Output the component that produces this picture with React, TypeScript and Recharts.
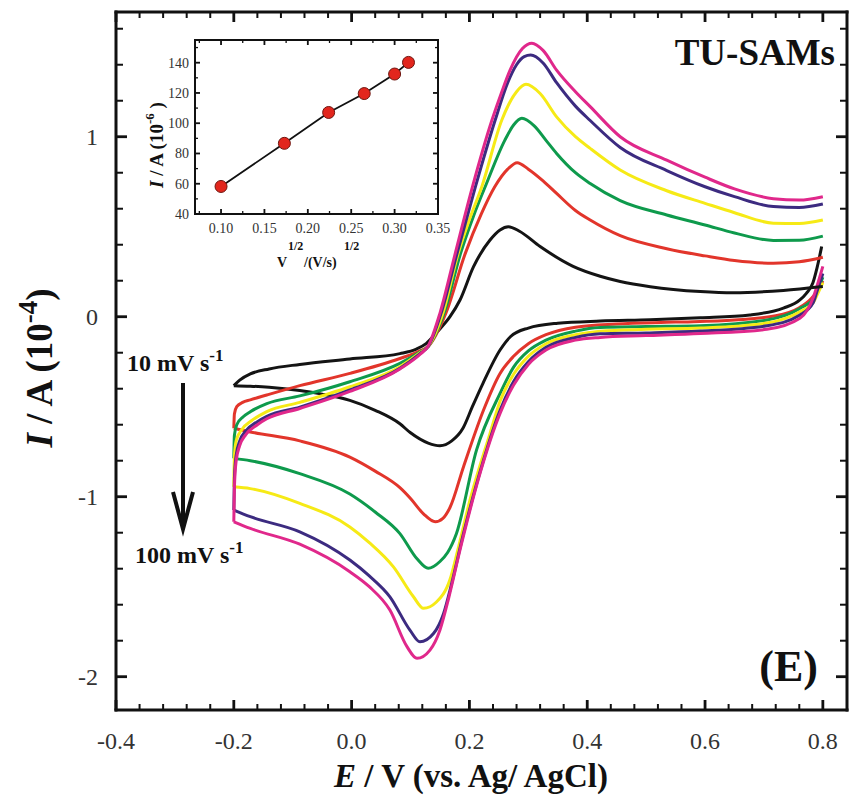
import React from "react";
import { LineChart, Line, XAxis, YAxis } from "recharts";

type Pt = [number, number];

// CV sweeps: [E (V vs Ag/AgCl), I (1e-4 A)]
// fwd = anodic sweep -0.2 -> 0.8, rev = cathodic sweep 0.8 -> -0.2
const blackFwd: Pt[] = [
  [-0.2, -0.383], [-0.19, -0.352], [-0.172, -0.318], [-0.14, -0.29], [-0.088, -0.265], [-0.003, -0.235],
  [0.082, -0.205], [0.11, -0.18], [0.127, -0.148], [0.145, -0.085], [0.167, 0.0], [0.184, 0.093],
  [0.207, 0.278], [0.235, 0.426], [0.252, 0.482], [0.266, 0.5], [0.285, 0.475], [0.32, 0.39],
  [0.376, 0.28], [0.422, 0.225], [0.456, 0.196], [0.507, 0.167], [0.592, 0.14], [0.648, 0.133],
  [0.733, 0.146], [0.8, 0.168],
];
const blackRev: Pt[] = [
  [0.798, 0.39], [0.79, 0.27], [0.783, 0.187], [0.772, 0.13], [0.761, 0.093], [0.733, 0.048],
  [0.676, 0.01], [0.592, -0.006], [0.507, -0.017], [0.422, -0.024], [0.35, -0.036], [0.3, -0.063],
  [0.27, -0.11], [0.252, -0.185], [0.223, -0.37], [0.205, -0.5], [0.189, -0.62], [0.17, -0.69],
  [0.15, -0.717], [0.13, -0.702], [0.1, -0.645], [0.082, -0.595], [0.04, -0.52], [-0.003, -0.465],
  [-0.05, -0.43], [-0.088, -0.41], [-0.14, -0.392], [-0.172, -0.386], [-0.2, -0.383],
];

const redFwd: Pt[] = [
  [-0.2, -0.62], [-0.199, -0.54], [-0.195, -0.5], [-0.185, -0.476], [-0.172, -0.462], [-0.144, -0.435],
  [-0.088, -0.383], [-0.003, -0.315], [0.082, -0.232], [0.116, -0.19], [0.13, -0.165], [0.16, 0.02],
  [0.193, 0.352], [0.22, 0.57], [0.243, 0.722], [0.265, 0.82], [0.281, 0.856], [0.3, 0.82],
  [0.325, 0.755], [0.348, 0.685], [0.38, 0.59], [0.405, 0.537], [0.456, 0.45], [0.535, 0.378],
  [0.6, 0.338], [0.65, 0.312], [0.716, 0.297], [0.76, 0.305], [0.8, 0.33],
];
const redRev: Pt[] = [
  [0.8, 0.2], [0.79, 0.14], [0.78, 0.1], [0.76, 0.05], [0.72, 0.005], [0.65, -0.018], [0.55, -0.03],
  [0.45, -0.04], [0.38, -0.058], [0.33, -0.1], [0.3, -0.15], [0.275, -0.22], [0.252, -0.315],
  [0.224, -0.518], [0.19, -0.833], [0.167, -1.06], [0.155, -1.12], [0.142, -1.139], [0.122, -1.095],
  [0.1, -1.01], [0.082, -0.95], [0.04, -0.858], [-0.003, -0.78], [-0.088, -0.69], [-0.172, -0.64],
  [-0.2, -0.62],
];

const greenFwd: Pt[] = [
  [-0.2, -0.787], [-0.199, -0.66], [-0.195, -0.6], [-0.184, -0.556], [-0.172, -0.528], [-0.144, -0.483],
  [-0.088, -0.44], [-0.003, -0.361], [0.082, -0.259], [0.116, -0.196], [0.13, -0.165], [0.157, 0.02],
  [0.185, 0.352], [0.207, 0.56], [0.229, 0.74], [0.26, 0.98], [0.275, 1.065], [0.289, 1.102],
  [0.31, 1.06], [0.33, 0.98], [0.348, 0.907], [0.38, 0.8], [0.405, 0.74], [0.456, 0.645],
  [0.535, 0.565], [0.6, 0.51], [0.65, 0.465], [0.716, 0.424], [0.76, 0.425], [0.8, 0.448],
];
const greenRev: Pt[] = [
  [0.8, 0.22], [0.79, 0.14], [0.784, 0.1], [0.761, 0.046], [0.705, -0.018], [0.592, -0.05], [0.5, -0.055],
  [0.422, -0.06], [0.38, -0.08], [0.33, -0.13], [0.3, -0.19], [0.275, -0.28], [0.252, -0.426],
  [0.212, -0.741], [0.178, -1.204], [0.163, -1.31], [0.15, -1.36], [0.13, -1.398], [0.111, -1.345],
  [0.082, -1.205], [0.04, -1.085], [-0.003, -0.985], [-0.088, -0.872], [-0.172, -0.8], [-0.2, -0.787],
];

const yellowFwd: Pt[] = [
  [-0.2, -0.945], [-0.199, -0.78], [-0.196, -0.69], [-0.186, -0.625], [-0.17, -0.578], [-0.144, -0.527],
  [-0.088, -0.476], [-0.003, -0.389], [0.082, -0.278], [0.116, -0.2], [0.13, -0.165], [0.155, 0.02],
  [0.181, 0.352], [0.2, 0.54], [0.221, 0.722], [0.255, 1.093], [0.28, 1.25], [0.296, 1.291],
  [0.32, 1.24], [0.348, 1.11], [0.38, 1.0], [0.405, 0.935], [0.456, 0.815], [0.535, 0.7],
  [0.6, 0.63], [0.65, 0.578], [0.716, 0.52], [0.76, 0.518], [0.8, 0.537],
];
const yellowRev: Pt[] = [
  [0.8, 0.19], [0.79, 0.12], [0.784, 0.08], [0.761, 0.028], [0.705, -0.035], [0.592, -0.063], [0.5, -0.07],
  [0.422, -0.08], [0.38, -0.1], [0.33, -0.15], [0.3, -0.22], [0.275, -0.32], [0.252, -0.47],
  [0.235, -0.648], [0.201, -1.018], [0.18, -1.3], [0.167, -1.46], [0.144, -1.585], [0.122, -1.62],
  [0.105, -1.556], [0.071, -1.39], [0.03, -1.255], [-0.003, -1.168], [-0.088, -1.037], [-0.172, -0.955],
  [-0.2, -0.945],
];

const indigoFwd: Pt[] = [
  [-0.2, -1.074], [-0.199, -0.9], [-0.196, -0.77], [-0.19, -0.69], [-0.18, -0.636], [-0.16, -0.583],
  [-0.144, -0.553], [-0.088, -0.502], [-0.003, -0.407], [0.082, -0.287], [0.116, -0.205], [0.13, -0.165],
  [0.152, 0.02], [0.178, 0.34], [0.21, 0.72], [0.2435, 1.09], [0.265, 1.3], [0.28, 1.4], [0.293, 1.445],
  [0.304, 1.454], [0.325, 1.41], [0.348, 1.3], [0.38, 1.17], [0.405, 1.09], [0.456, 0.94],
  [0.535, 0.812], [0.6, 0.722], [0.65, 0.667], [0.716, 0.612], [0.76, 0.607], [0.8, 0.626],
];
const indigoRev: Pt[] = [
  [0.8, 0.24], [0.79, 0.14], [0.784, 0.08], [0.761, 0.009], [0.705, -0.05], [0.592, -0.08], [0.5, -0.09],
  [0.422, -0.095], [0.38, -0.115], [0.33, -0.17], [0.3, -0.25], [0.275, -0.36], [0.252, -0.52],
  [0.224, -0.796], [0.19, -1.204], [0.17, -1.48], [0.156, -1.65], [0.139, -1.76], [0.116, -1.806],
  [0.099, -1.741], [0.065, -1.556], [0.03, -1.44], [-0.003, -1.352], [-0.088, -1.195], [-0.172, -1.111],
  [-0.2, -1.074],
];

const magentaFwd: Pt[] = [
  [-0.2, -1.139], [-0.199, -0.95], [-0.196, -0.8], [-0.19, -0.716], [-0.18, -0.656], [-0.16, -0.6],
  [-0.144, -0.567], [-0.088, -0.51], [-0.003, -0.415], [0.082, -0.29], [0.116, -0.21], [0.13, -0.163],
  [0.15, 0.02], [0.175, 0.34], [0.205, 0.72], [0.238, 1.09], [0.255, 1.25], [0.269, 1.37], [0.29, 1.49],
  [0.306, 1.52], [0.325, 1.48], [0.348, 1.37], [0.38, 1.25], [0.405, 1.167], [0.456, 1.0],
  [0.535, 0.87], [0.6, 0.775], [0.65, 0.71], [0.716, 0.656], [0.76, 0.648], [0.8, 0.667],
];
const magentaRev: Pt[] = [
  [0.8, 0.28], [0.79, 0.17], [0.784, 0.11], [0.761, -0.009], [0.705, -0.07], [0.592, -0.093], [0.5, -0.105],
  [0.422, -0.115], [0.38, -0.13], [0.33, -0.185], [0.3, -0.265], [0.275, -0.38], [0.252, -0.537],
  [0.218, -0.87], [0.184, -1.296], [0.165, -1.56], [0.15, -1.74], [0.133, -1.852], [0.111, -1.898],
  [0.094, -1.833], [0.065, -1.63], [0.03, -1.5], [-0.003, -1.417], [-0.088, -1.264], [-0.172, -1.176],
  [-0.2, -1.139],
];

const scanRates = ["10", "30", "50", "70", "90", "100"];
const curveColors = ["#141414", "#e2352b", "#0e9a4c", "#f6ea16", "#3c2b80", "#e0288b"];

// main axes
const xMajor = [-0.4, -0.2, 0, 0.2, 0.4, 0.6, 0.8];
const xMajorLabels = ["-0.4", "-0.2", "0.0", "0.2", "0.4", "0.6", "0.8"];
const xMinor = [
  -0.36, -0.32, -0.28, -0.24, -0.16, -0.12, -0.08, -0.04, 0.04, 0.08, 0.12, 0.16,
  0.24, 0.28, 0.32, 0.36, 0.44, 0.48, 0.52, 0.56, 0.64, 0.68, 0.72, 0.76,
];
const yMajor = [-2, -1, 0, 1];
const yMajorLabels = ["-2", "-1", "0", "1"];
const yMinor = [-1.8, -1.6, -1.4, -1.2, -0.8, -0.6, -0.4, -0.2, 0.2, 0.4, 0.6, 0.8, 1.2, 1.4, 1.6];

// inset: peak current vs sqrt(scan rate)
const sqrtScanRate = [0.1, 0.173, 0.224, 0.265, 0.3, 0.316];
const peakCurrent = [58.2, 86.7, 107.1, 119.6, 132.5, 140.2];
const inXMajor = [0.1, 0.15, 0.2, 0.25, 0.3, 0.35];
const inXMajorLabels = ["0.10", "0.15", "0.20", "0.25", "0.30", "0.35"];
const inXMinor = [0.075, 0.125, 0.175, 0.225, 0.275, 0.325];
const inYMajor = [40, 60, 80, 100, 120, 140];
const inYMajorLabels = ["40", "60", "80", "100", "120", "140"];
const inYMinor = [50, 70, 90, 110, 130, 150];

const SERIF = "'Liberation Serif', 'DejaVu Serif', serif";

const sortNum = (a: number[]) => [...a].sort((p, q) => p - q);
const toRows = (pts: Pt[]) => pts.map(([E, I]) => ({ E, I }));

const series = [
  { fwd: blackFwd, rev: blackRev },
  { fwd: redFwd, rev: redRev },
  { fwd: greenFwd, rev: greenRev },
  { fwd: yellowFwd, rev: yellowRev },
  { fwd: indigoFwd, rev: indigoRev },
  { fwd: magentaFwd, rev: magentaRev },
].map((s, i) => ({ ...s, name: `${scanRates[i]} mV/s`, color: curveColors[i] }));

type Side = "bottom" | "top" | "left" | "right";
interface TickOpt {
  major: number;
  minor: number;
  sw: number;
  gap: number;
  size: number;
  color: string;
}

// ticks point into the plot; labels only on bottom / left majors
function makeTick(side: Side, majors: number[], labels: string[], o: TickOpt) {
  return (props: any) => {
    const { x, y, payload } = props;
    const i = majors.findIndex((m) => Math.abs(m - payload.value) < 1e-9);
    const len = i >= 0 ? o.major : o.minor;
    let x2 = x;
    let y2 = y;
    if (side === "bottom") y2 = y - len;
    else if (side === "top") y2 = y + len;
    else if (side === "left") x2 = x + len;
    else x2 = x - len;
    return (
      <g>
        <line x1={x} y1={y} x2={x2} y2={y2} stroke="#111" strokeWidth={i >= 0 ? o.sw * 1.4 : o.sw} />
        {i >= 0 && side === "bottom" ? (
          <text x={x} y={y + o.gap} textAnchor="middle" fontFamily={SERIF} fontSize={o.size} fill={o.color}>
            {labels[i]}
          </text>
        ) : null}
        {i >= 0 && side === "left" ? (
          <text x={x - o.gap} y={y} dy="0.35em" textAnchor="end" fontFamily={SERIF} fontSize={o.size} fill={o.color}>
            {labels[i]}
          </text>
        ) : null}
      </g>
    );
  };
}

const X_MIN = -0.4;
const X_MAX = 0.841;
const Y_MIN = -2.185;
const Y_MAX = 1.693;

const mainOpt: TickOpt = { major: 10, minor: 6, sw: 2, gap: 39, size: 24, color: "#333" };
const mainYOpt: TickOpt = { major: 11, minor: 7, sw: 2, gap: 18, size: 24, color: "#333" };
const inOpt: TickOpt = { major: 5, minor: 3, sw: 1.3, gap: 19, size: 14, color: "#333" };
const inYOpt: TickOpt = { major: 5, minor: 3, sw: 1.3, gap: 6, size: 14, color: "#333" };

const frame = { stroke: "#111", strokeWidth: 3, strokeLinecap: "square" as const };
const inFrame = { stroke: "#111", strokeWidth: 2, strokeLinecap: "square" as const };

// axes are 1px thick (0 would not be drawn), margins are the plot edges minus that
const axisCommon = {
  type: "number" as const,
  allowDataOverflow: true,
  interval: 0 as const,
  tickSize: 0,
  tickMargin: 0,
  tickLine: false,
};

function RedDot(props: any) {
  const { cx, cy } = props;
  if (cx == null || cy == null) return null;
  return <circle cx={cx} cy={cy} r={6} fill="#e2261d" stroke="#6e1610" strokeWidth={1} />;
}

export default function App() {
  const xTicks = sortNum([...xMajor, ...xMinor]);
  const yTicks = sortNum([...yMajor, ...yMinor]);
  const inXTicks = sortNum([...inXMajor, ...inXMinor]);
  const inYTicks = sortNum([...inYMajor, ...inYMinor]);
  const insetRows = sqrtScanRate.map((v, i) => ({ v, I: peakCurrent[i] }));

  return (
    <div style={{ position: "absolute", left: 0, top: 0, width: 850, height: 798, background: "#fff" }}>
      <LineChart width={850} height={798} margin={{ top: 11, right: 2, bottom: 87, left: 115 }}>
        <XAxis {...axisCommon} xAxisId="b" dataKey="E" domain={[X_MIN, X_MAX]} ticks={xTicks} height={1}
          axisLine={frame} tick={makeTick("bottom", xMajor, xMajorLabels, mainOpt)} />
        <XAxis {...axisCommon} xAxisId="t" orientation="top" dataKey="E" domain={[X_MIN, X_MAX]} ticks={xTicks}
          height={1} axisLine={frame} tick={makeTick("top", xMajor, xMajorLabels, mainOpt)} />
        <YAxis {...axisCommon} yAxisId="l" domain={[Y_MIN, Y_MAX]} ticks={yTicks} width={1}
          axisLine={frame} tick={makeTick("left", yMajor, yMajorLabels, mainYOpt)} />
        <YAxis {...axisCommon} yAxisId="r" orientation="right" domain={[Y_MIN, Y_MAX]} ticks={yTicks} width={1}
          axisLine={frame} tick={makeTick("right", yMajor, yMajorLabels, mainYOpt)} />
        {series.map((s) => (
          <Line
            key={s.name + "-rev"}
            xAxisId="b"
            yAxisId="l"
            data={toRows(s.rev)}
            dataKey="I"
            name={s.name}
            type="monotone"
            stroke={s.color}
            strokeWidth={3}
            dot={false}
            activeDot={false}
            isAnimationActive={false}
          />
        ))}
        {series.map((s) => (
          <Line
            key={s.name + "-fwd"}
            xAxisId="b"
            yAxisId="l"
            data={toRows(s.fwd)}
            dataKey="I"
            name={s.name}
            type="monotone"
            stroke={s.color}
            strokeWidth={3}
            dot={false}
            activeDot={false}
            isAnimationActive={false}
          />
        ))}
      </LineChart>

      <div style={{ position: "absolute", left: 135, top: 20 }}>
        <LineChart width={320} height={270} data={insetRows} margin={{ top: 19, right: 16, bottom: 75, left: 59 }}>
          <XAxis {...axisCommon} xAxisId="b" dataKey="v" domain={[0.07, 0.35]} ticks={inXTicks} height={1}
            axisLine={inFrame} tick={makeTick("bottom", inXMajor, inXMajorLabels, inOpt)} />
          <XAxis {...axisCommon} xAxisId="t" orientation="top" dataKey="v" domain={[0.07, 0.35]} ticks={inXTicks}
            height={1} axisLine={inFrame} tick={makeTick("top", inXMajor, inXMajorLabels, inOpt)} />
          <YAxis {...axisCommon} yAxisId="l" domain={[40, 155]} ticks={inYTicks} width={1}
            axisLine={inFrame} tick={makeTick("left", inYMajor, inYMajorLabels, inYOpt)} />
          <YAxis {...axisCommon} yAxisId="r" orientation="right" domain={[40, 155]} ticks={inYTicks} width={1}
            axisLine={inFrame} tick={makeTick("right", inYMajor, inYMajorLabels, inYOpt)} />
          <Line
            xAxisId="b"
            yAxisId="l"
            dataKey="I"
            type="linear"
            stroke="#111"
            strokeWidth={1.8}
            dot={<RedDot />}
            activeDot={false}
            isAnimationActive={false}
          />
        </LineChart>
      </div>

      <svg
        width={850}
        height={798}
        style={{ position: "absolute", left: 0, top: 0, pointerEvents: "none" }}
        fontFamily={SERIF}
        fontWeight="bold"
        fill="#111"
      >
        <text transform="translate(52,368) rotate(-90)" textAnchor="middle" fontSize={37}>
          <tspan fontStyle="italic">I</tspan>
          <tspan>{" / A (10"}</tspan>
          <tspan dy={-15} fontSize={27}>-4</tspan>
          <tspan dy={15}>)</tspan>
        </text>
        <text x={471} y={787} textAnchor="middle" fontSize={33}>
          <tspan fontStyle="italic">E</tspan>
          <tspan>{" / V (vs. Ag/ AgCl)"}</tspan>
        </text>

        <text x={835} y={65} textAnchor="end" fontSize={37}>TU-SAMs</text>
        <text x={818} y={681} textAnchor="end" fontSize={44}>(E)</text>

        <text x={127} y={371} fontSize={24}>
          <tspan>10 mV s</tspan>
          <tspan dy={-10} fontSize={17}>-1</tspan>
        </text>
        <text x={135} y={563} fontSize={24}>
          <tspan>100 mV s</tspan>
          <tspan dy={-10} fontSize={17}>-1</tspan>
        </text>
        <line x1={183} y1={383} x2={183} y2={526} stroke="#111" strokeWidth={4} />
        <polyline points="173,492 183,529 193,492" fill="none" stroke="#111" strokeWidth={4} />

        <text transform="translate(163,188) rotate(-90)" fontSize={19}>
          <tspan fontStyle="italic">I</tspan>
          <tspan>{" / A (10"}</tspan>
          <tspan dy={-9} fontSize={13}>-6</tspan>
          <tspan dy={9}>{" )"}</tspan>
        </text>
        <text x={277} y={267} fontSize={14}>V</text>
        <text x={288} y={250} fontSize={12}>1/2</text>
        <text x={304} y={267} fontSize={14}>/(V/s)</text>
        <text x={344} y={250} fontSize={12}>1/2</text>
      </svg>
    </div>
  );
}
